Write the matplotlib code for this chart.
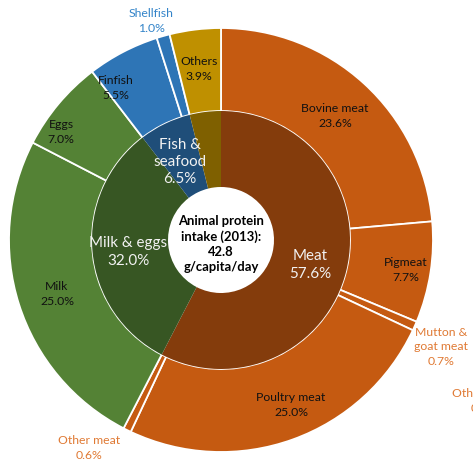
import matplotlib
matplotlib.use("Agg")
import matplotlib.pyplot as plt

# Animal protein intake by source (2013), share of total in %
groups = ["Meat", "Milk & eggs", "Fish &\nseafood", "Others"]
group_values = [57.6, 32.0, 6.5, 3.9]
group_colors = ["#843C0C", "#375623", "#1F4E79", "#7F6000"]

items = ["Bovine meat", "Pigmeat", "Mutton &\ngoat meat", "Poultry meat", "Other meat",
         "Milk", "Eggs", "Finfish", "Shellfish", "Others"]
item_values = [23.6, 7.7, 0.7, 25.0, 0.6, 25.0, 7.0, 5.5, 1.0, 3.9]
item_colors = ["#C55A11"] * 5 + ["#548235"] * 2 + ["#2E75B6"] * 2 + ["#BF9000"]

center_text = "Animal protein\nintake (2013):\n42.8\ng/capita/day"

W, H = 473, 460
fig = plt.figure(figsize=(W / 100, H / 100), dpi=100)
ax = fig.add_axes([0, 0, 1, 1])

cx, cy = 221, H - 241
R_out, R_mid, R_hole = 212, 129, 53

ax.pie(item_values, radius=R_out, center=(cx, cy), colors=item_colors,
       startangle=90, counterclock=False,
       wedgeprops=dict(width=R_out - R_mid, edgecolor="white", linewidth=1.3))
ax.pie(group_values, radius=R_mid, center=(cx, cy), colors=group_colors,
       startangle=90, counterclock=False,
       wedgeprops=dict(width=R_mid - R_hole, edgecolor="none"))

ax.set_xlim(0, W)
ax.set_ylim(0, H)
ax.set_aspect("equal")
ax.axis("off")

font = ["Lato", "DejaVu Sans"]
orange_txt = "#E07A34"
blue_txt = "#3384C9"

# Outer ring labels (pixel positions, top-left origin)
item_label_pos = [(335, 116), (406, 270), (441, 347), (291, 405), (89, 448),
                  (57, 294), (61, 132), (116, 88), (151, 21), (199, 69)]
outside = {2: orange_txt, 4: orange_txt, 8: blue_txt}
for i, (name, val) in enumerate(zip(items, item_values)):
    x, y = item_label_pos[i]
    col = outside.get(i, "#111111")
    ax.text(x, H - y, f"{name}\n{val:.1f}%", ha="center", va="center",
            fontsize=8.8, color=col, family=font, linespacing=1.35)

# Label running off the right margin
ax.text(452, H - 401, "Other offals\n0.0%", ha="left", va="center",
        fontsize=8.8, color=orange_txt, family=font, linespacing=1.35,
        multialignment="center", clip_on=False)

# Inner ring labels
group_label_pos = [(310, 265), (128, 252), (180, 162), None]
for i, (name, val) in enumerate(zip(groups, group_values)):
    if group_label_pos[i] is None:
        continue
    x, y = group_label_pos[i]
    ax.text(x, H - y, f"{name}\n{val:.1f}%", ha="center", va="center",
            fontsize=10.9, color="#F2F2F2", family=font, linespacing=1.3)

ax.text(cx, H - 244, center_text, ha="center", va="center", fontsize=9.4,
        fontweight="bold", color="black", family=font, linespacing=1.3)

fig.savefig("out.png", dpi=100)
